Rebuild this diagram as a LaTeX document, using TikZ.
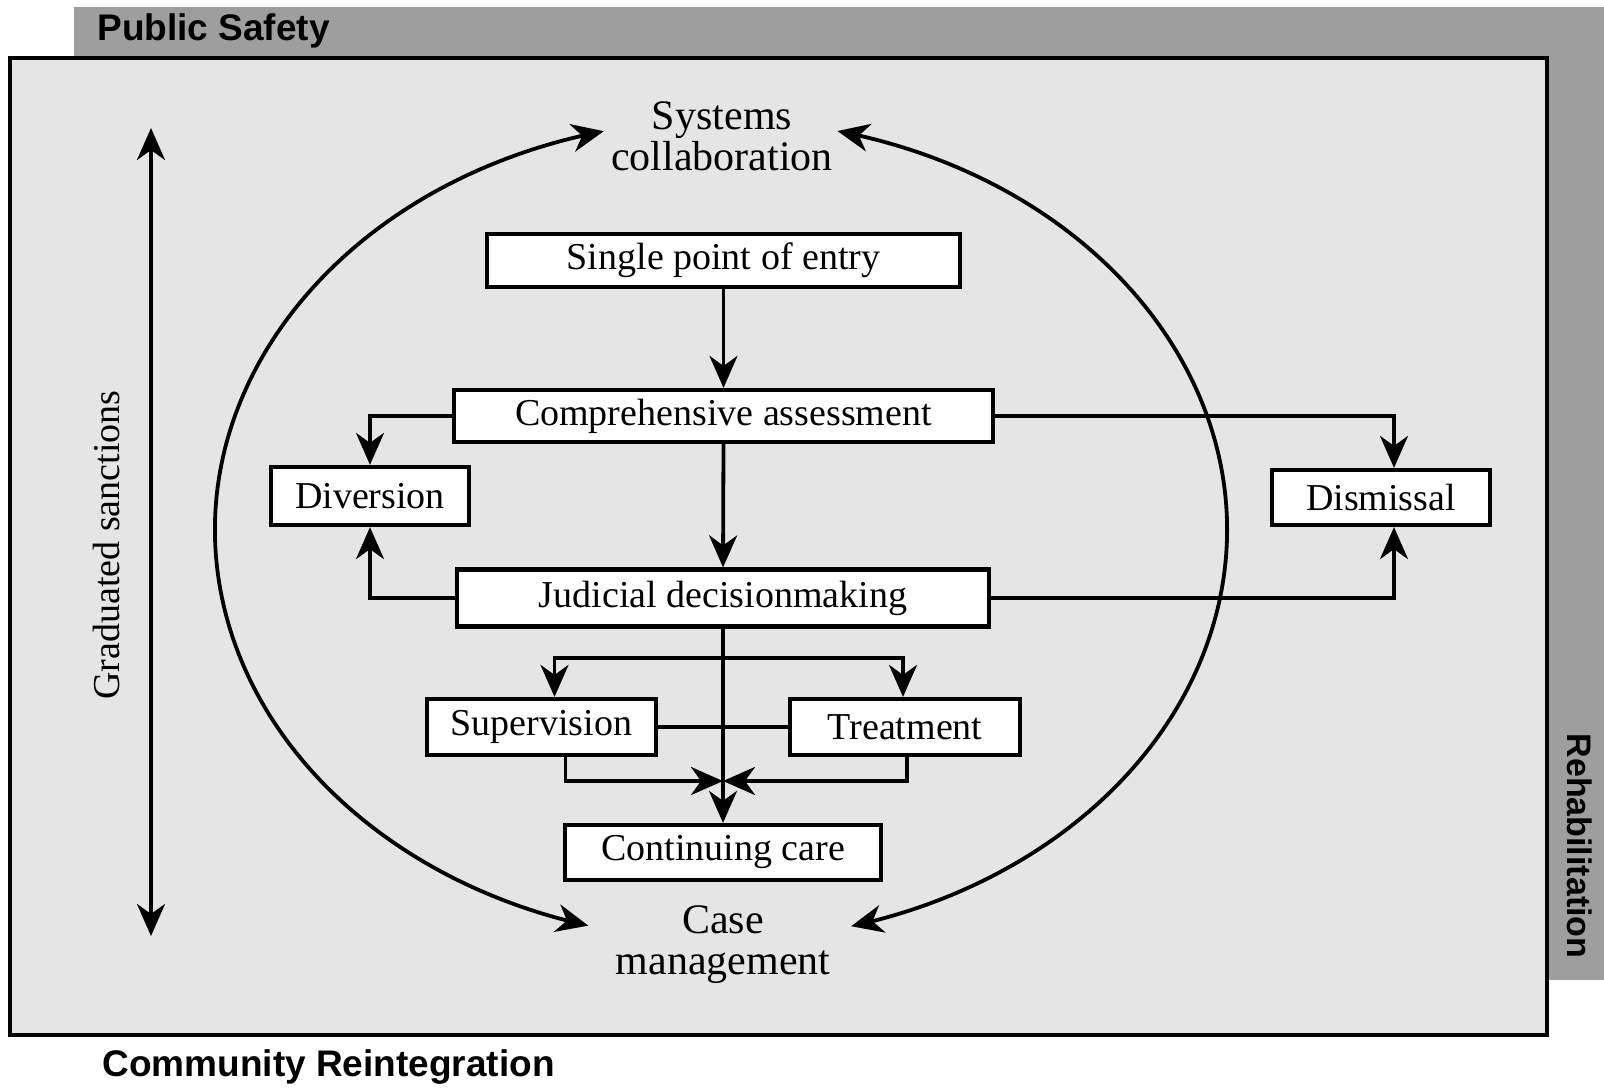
\documentclass[tikz,border=0pt]{standalone}
\usepackage{fontspec}
\setmainfont{Liberation Serif}
\newfontfamily\bandfont{Liberation Sans}
\usetikzlibrary{arrows.meta,bending,calc}
\definecolor{bandgray}{gray}{0.62}
\definecolor{panelgray}{gray}{0.90}
\begin{document}
\begin{tikzpicture}[x=0.5pt,y=-0.5pt,
  box/.style={draw, line width=2.1pt, fill=white, inner sep=0pt,
    font=\fontsize{19}{22}\selectfont},
  lab/.style={align=center, inner sep=0pt, font=\fontsize{21}{20.5}\selectfont},
  sidelab/.style={inner sep=0pt, font=\fontsize{19}{22}\selectfont},
  bandlab/.style={inner sep=0pt, font=\bandfont\bfseries\fontsize{18.5}{22}\selectfont},
  arr/.style={line width=1.9pt, -{Stealth[length=16pt,width=14pt,inset=5pt]}},
  darr/.style={line width=1.9pt, {Stealth[length=16pt,width=14pt,inset=5pt]}-{Stealth[length=16pt,width=14pt,inset=5pt]}},
  conn/.style={line width=1.9pt}]
\useasboundingbox (0,0) rectangle (1604,1088);
% background band and panel
\fill[bandgray] (74,7) rectangle (1604,980);
\draw[line width=2pt, fill=panelgray] (10,58) rectangle (1547,1035);
% band labels
\node[bandlab, anchor=west] (ps) at (97,31) {Public Safety};
\node[bandlab, anchor=west] (cr) at (102,1067) {Community Reintegration};
\node[bandlab, rotate=-90, font=\bandfont\bfseries\fontsize{17}{20}\selectfont] (rh) at (1580,846) {Rehabilitation};
% graduated sanctions
\node[sidelab, rotate=90] (gs) at (107,545) {Graduated sanctions};
\coordinate (gt) at (151,128);
\coordinate (gb) at (151,936);
\draw[darr] (gt) -- (gb);
% ellipse labels
\node[lab] (sc) at (722,136) {Systems\\collaboration};
\node[lab] (cm) at (723,945) {Case\\management};
% ellipse arcs
\coordinate (c) at (721,530);
\coordinate (tl) at ($(c)+(103.4:253pt and 205pt)$);
\coordinate (tr) at ($(c)+(76.7:253pt and 205pt)$);
\draw[darr] (tl) arc[start angle=103.4, end angle=254.8, x radius=253pt, y radius=205pt];
\draw[darr] (tr) arc[start angle=76.7, end angle=-75.1, x radius=253pt, y radius=205pt];
% boxes
\node[box, minimum width=236.5pt, minimum height=26.5pt] (entry) at (723.5,260.5) {Single point of entry};
\node[box, minimum width=269.5pt, minimum height=26pt] (assess) at (723.5,416) {Comprehensive assessment};
\node[box, minimum width=99pt, minimum height=29pt] (div) at (370,496) {Diversion};
\node[box, minimum width=109pt, minimum height=27.5pt] (dis) at (1381,497.5) {Dismissal};
\node[box, minimum width=266pt, minimum height=28.5pt] (jud) at (723,598) {Judicial decisionmaking};
\node[box, minimum width=114.5pt, minimum height=28pt] (sup) at (541.5,727) {Supervision};
\node[box, minimum width=115pt, minimum height=28pt] (treat) at (905,727) {Treatment};
\node[box, minimum width=158pt, minimum height=27.5pt] (care) at (723,852.5) {Continuing care};
% connectors
\draw[arr] (entry.south) -- (assess.north);
\draw[arr] (assess.south) -- (jud.north);
\draw[arr] (assess.west) -| (div.north);
\draw[arr] (jud.west) -| (div.south);
\draw[arr] (assess.east) -| ([xshift=6.5pt]dis.north);
\draw[arr] (jud.east) -| ([xshift=6.5pt]dis.south);
\draw[arr] (jud.south) -- (care.north);
\coordinate (bj) at (723,658);
\draw[arr] (bj) -| ([xshift=6.5pt]sup.north);
\draw[arr] (bj) -| ([xshift=-1pt]treat.north);
\draw[conn] (sup.east) -- (treat.west);
\coordinate (mj) at (723,781);
\draw[arr] ([xshift=12pt]sup.south) |- (mj);
\draw[arr] ([xshift=1pt]treat.south) |- (mj);
\end{tikzpicture}
\end{document}
